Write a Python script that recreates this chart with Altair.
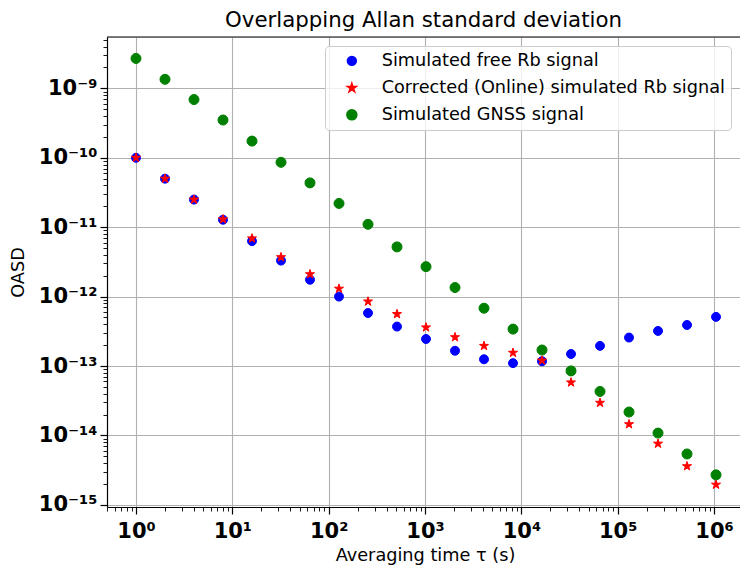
import altair as alt
import pandas as pd
import math

# ---------------- data ----------------
tau = [1, 2, 4, 8, 16, 32, 64, 128, 256, 512, 1024, 2048, 4096, 8192,
       16384, 32768, 65536, 131072, 262144, 524288, 1048576]

free_rb = [1.0e-10, 5.0e-11, 2.5e-11, 1.28e-11, 6.3e-12, 3.3e-12, 1.75e-12,
           1.0e-12, 5.8e-13, 3.7e-13, 2.45e-13, 1.66e-13, 1.25e-13, 1.1e-13,
           1.17e-13, 1.49e-13, 1.95e-13, 2.57e-13, 3.2e-13, 3.9e-13, 5.1e-13]

corrected_rb = [1.0e-10, 5.0e-11, 2.5e-11, 1.3e-11, 6.9e-12, 3.7e-12, 2.1e-12,
                1.3e-12, 8.5e-13, 5.6e-13, 3.6e-13, 2.6e-13, 1.95e-13, 1.55e-13,
                1.2e-13, 5.8e-14, 2.95e-14, 1.45e-14, 7.6e-15, 3.6e-15, 1.95e-15]

gnss = [2.7e-9, 1.35e-9, 6.9e-10, 3.5e-10, 1.74e-10, 8.6e-11, 4.35e-11,
        2.2e-11, 1.1e-11, 5.2e-12, 2.7e-12, 1.35e-12, 6.8e-13, 3.4e-13,
        1.7e-13, 8.5e-14, 4.3e-14, 2.17e-14, 1.08e-14, 5.4e-15, 2.7e-15]

series_names = ["Simulated free Rb signal",
                "Corrected (Online) simulated Rb signal",
                "Simulated GNSS signal"]
series_colors = ["#0000ff", "#ff0000", "#008000"]

STAR = ("M0,-1L0.2245,-0.309L0.951,-0.309L0.363,0.118L0.588,0.809L0,0.382"
        "L-0.588,0.809L-0.363,0.118L-0.951,-0.309L-0.2245,-0.309Z")
series_shapes = ["circle", STAR, "circle"]
series_sizes = [80, 100, 80]

x_major = [1, 10, 100, 1000, 10000, 100000, 1000000]
x_major_labels = ["10⁰", "10¹", "10²", "10³", "10⁴", "10⁵", "10⁶"]
y_major = [1e-15, 1e-14, 1e-13, 1e-12, 1e-11, 1e-10, 1e-9]
y_major_labels = ["10⁻¹⁵", "10⁻¹⁴", "10⁻¹³", "10⁻¹²", "10⁻¹¹", "10⁻¹⁰", "10⁻⁹"]

x_domain = [0.5, 1.86e6]
y_domain = [9.3e-16, 5.5e-9]

# ---------------- table ----------------
rows = []
for name, vals in zip(series_names, [free_rb, corrected_rb, gnss]):
    for t, v in zip(tau, vals):
        rows.append({"tau": t, "oasd": v, "series": name})
df = pd.DataFrame(rows)


def log_ticks(lo, hi):
    out = []
    e0 = math.floor(math.log10(lo))
    e1 = math.ceil(math.log10(hi))
    for e in range(e0, e1 + 1):
        for m in range(1, 10):
            v = float(f"{m}e{e}")
            if lo <= v <= hi:
                out.append(v)
    return out


def label_expr(vals, labels):
    expr = "''"
    for v, l in zip(reversed(vals), reversed(labels)):
        expr = f"abs(datum.value - {v!r}) < {v!r}*1e-6 ? '{l}' : ({expr})"
    return expr


is_major = "abs(log(datum.value)/LN10 - round(log(datum.value)/LN10)) < 0.001"

FONT = "DejaVu Sans"


def make_axis(vals, labels, **kw):
    return alt.Axis(
        values=log_ticks(*kw.pop("dom")),
        labelExpr=label_expr(vals, labels),
        labelFont=FONT, labelFontWeight="bold", labelFontSize=21,
        labelColor="black", labelOverlap=False, labelFlush=False,
        tickColor="black",
        tickSize={"condition": {"test": is_major, "value": 7}, "value": 4},
        tickWidth={"condition": {"test": is_major, "value": 1.2}, "value": 0.9},
        gridColor="#b0b0b0", gridWidth=1.1,
        gridOpacity={"condition": {"test": is_major, "value": 1}, "value": 0},
        domainColor="black", domainWidth=1.2,
        titleFont=FONT, titleFontSize=17.7, titleFontWeight="normal",
        titleColor="black",
        **kw,
    )


x_axis = make_axis(x_major, x_major_labels, dom=x_domain, labelPadding=6,
                   title="Averaging time τ (s)", titleX=318, titleY=48,
                   titleBaseline="middle", titleAlign="center")
y_axis = make_axis(y_major, y_major_labels, dom=y_domain, labelPadding=3,
                   title="OASD", titleX=-89, titleY=235, titleAngle=-90,
                   titleAlign="center", titleBaseline="middle")

legend = alt.Legend(
    title=None, orient="none", legendX=218, legendY=9,
    fillColor="rgba(255,255,255,0.8)", strokeColor="#cccccc",
    cornerRadius=4, padding=6, symbolOffset=12, labelOffset=21, rowPadding=8,
    labelFont=FONT, labelFontSize=17.7, labelColor="black", labelLimit=600)

points = alt.Chart(df).mark_point(filled=True, opacity=1, strokeWidth=1).encode(
    x=alt.X("tau:Q", scale=alt.Scale(type="log", domain=x_domain, nice=False),
            axis=x_axis),
    y=alt.Y("oasd:Q", scale=alt.Scale(type="log", domain=y_domain, nice=False),
            axis=y_axis),
    color=alt.Color("series:N",
                    scale=alt.Scale(domain=series_names, range=series_colors),
                    legend=legend),
    stroke=alt.Stroke("series:N",
                      scale=alt.Scale(domain=series_names, range=series_colors),
                      legend=None),
    shape=alt.Shape("series:N",
                    scale=alt.Scale(domain=series_names, range=series_shapes),
                    legend=legend),
    size=alt.Size("series:N",
                  scale=alt.Scale(domain=series_names, range=series_sizes),
                  legend=legend),
)

top_border = alt.Chart(alt.Data(values=[{"a": 1}])).mark_rule(
    color="black", strokeWidth=1.2
).encode(x=alt.value(0), x2=alt.value(640), y=alt.value(0))

chart = alt.layer(points, top_border).properties(
    width=633, height=470,
    title=alt.Title("Overlapping Allan standard deviation", font=FONT,
                    fontSize=21.3, fontWeight="normal", color="black",
                    anchor="middle", offset=-2),
    autosize=alt.AutoSizeParams(type="none"),
    padding={"left": 107, "top": 37, "right": 0, "bottom": 58},
).configure_view(stroke=None).configure(background="white")

chart.save("out.html", embed_options={"renderer": "svg", "actions": False})
